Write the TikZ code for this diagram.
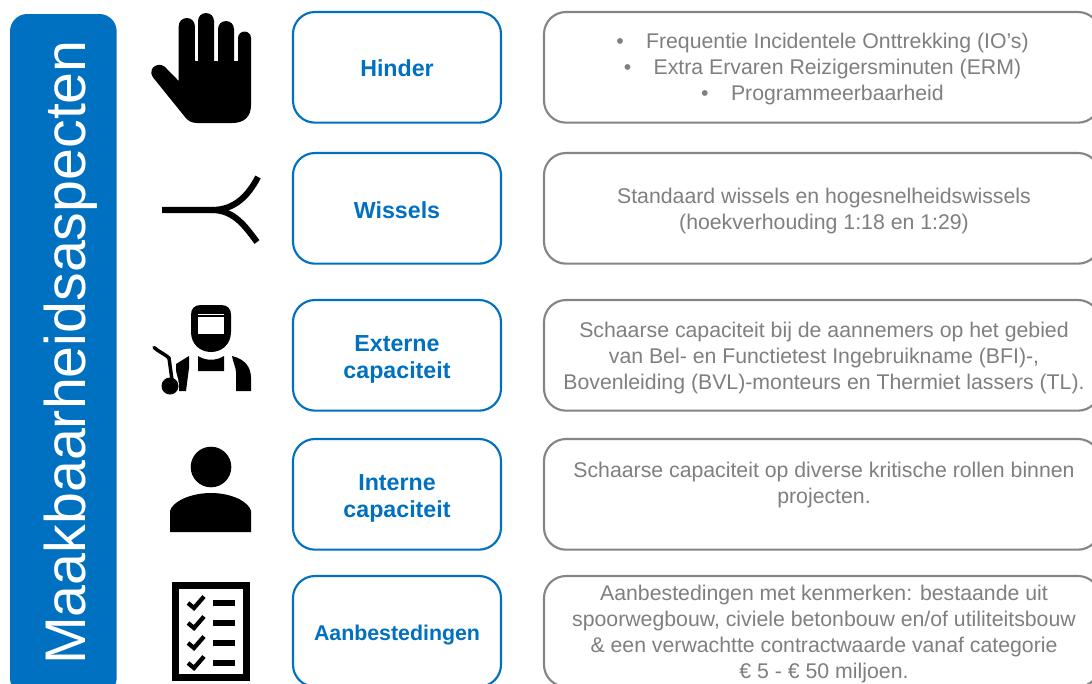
\documentclass[tikz,border=0pt]{standalone}
\usepackage{fontspec}
\setmainfont{Liberation Sans}
\definecolor{kblue}{HTML}{0070C0}
\definecolor{kgray}{HTML}{7F7F7F}
\definecolor{kedge}{HTML}{858585}
\tikzset{
  every node/.style={inner sep=0pt,outer sep=0pt},
  labelbox/.style={draw=kblue,line width=1.6pt,rounded corners=16.5pt,minimum width=156pt,minimum height=83pt,anchor=north west},
  labeltext/.style={text=kblue,align=center,font=\fontsize{17.4}{20.3}\selectfont\bfseries},
  infobox/.style={draw=kedge,line width=1.6pt,rounded corners=16.5pt,minimum width=417pt,minimum height=83pt,anchor=north west},
  infotext/.style={text=kgray,align=center,font=\fontsize{15.95}{19.4}\selectfont},
  icon/.style={fill=black,draw=none}
}
\begin{document}
\begin{tikzpicture}[x=0.75pt,y=-0.75pt]
\useasboundingbox (0,0) rectangle (1092,683);
\clip (0,0) rectangle (1092,683);
\fill[white] (0,0) rectangle (1092,683);
% title band
\node[fill=kblue,rounded corners=13pt,minimum width=80pt,minimum height=511pt,anchor=north west] (band) at (10,14) {};
\node[text=white,rotate=90,font=\fontsize{43}{44}\selectfont] (title) at (70.5,352.5) {Maakbaarheidsaspecten};
% label boxes
\node[labelbox] (l1) at (293,12) {};
\node[labelbox] (l2) at (293,153) {};
\node[labelbox] (l3) at (293,300) {};
\node[labelbox] (l4) at (293,439) {};
\node[labelbox] (l5) at (293,576) {};
\node[labeltext,yshift=-0.8pt] (lt1) at (l1) {Hinder};
\node[labeltext,yshift=-1.6pt] (lt2) at (l2) {Wissels};
\node[labeltext,yshift=-3pt] (lt3) at (l3) {Externe\\capaciteit};
\node[labeltext,yshift=-3pt] (lt4) at (l4) {Interne\\capaciteit};
\node[labeltext,yshift=-2.4pt,font=\fontsize{16}{19}\selectfont\bfseries] (lt5) at (l5) {Aanbestedingen};
% info boxes
\node[infobox] (r1) at (544,12) {};
\node[infobox] (r2) at (544,153) {};
\node[infobox] (r3) at (544,300) {};
\node[infobox] (r4) at (544,439) {};
\node[infobox] (r5) at (544,576) {};
\node[infotext] (t1) at (822.5,69) {•\hspace{1.05em}Frequentie Incidentele Onttrekking (IO's)\\•\hspace{1.05em}Extra Ervaren Reizigersminuten (ERM)\\•\hspace{1.05em}Programmeerbaarheid};
\node[infotext] (t2) at (824,211) {Standaard wissels en hogesnelheidswissels\\(hoekverhouding 1:18 en 1:29)};
\node[infotext] (t3) at (824,358) {Schaarse capaciteit bij de aannemers op het gebied\\van Bel- en Functietest Ingebruikname (BFI)-,\\Bovenleiding (BVL)-monteurs en Thermiet lassers (TL).};
\node[infotext] (t4) at (824,485) {Schaarse capaciteit op diverse kritische rollen binnen\\projecten.};
\node[infotext] (t5) at (824,634) {Aanbestedingen met kenmerken: bestaande uit\\spoorwegbouw, civiele betonbouw en/of utiliteitsbouw\\\& een verwachtte contractwaarde vanaf categorie\\€ 5 - € 50 miljoen.};
% hand
\fill[icon] (178.7,81)
  -- (178.7,26) arc[start angle=180,end angle=0,x radius=8.1,y radius=-8]
  -- (195,61) -- (198,61) -- (198,21) arc[start angle=180,end angle=0,x radius=8,y radius=-8]
  -- (214,61) -- (218,61) -- (218,29) arc[start angle=180,end angle=0,x radius=8,y radius=-8]
  -- (234,61) -- (238,61) -- (238,38) arc[start angle=180,end angle=0,x radius=6.5,y radius=-6.5]
  -- (251,105) .. controls (251,117) and (244,123) .. (232,123)
  -- (197,123) .. controls (192,123) and (188,121) .. (185,117)
  -- (153.5,78) .. controls (149,72) and (152,67) .. (156,65.5)
  .. controls (160,64) and (164,65) .. (167,69) -- cycle;
% switch
\draw[line width=4.6pt] (162,210) -- (212,210) .. controls (236,210) and (249,194) .. (258,177);
\draw[line width=4.6pt] (212,210) .. controls (234,210) and (245,226) .. (257,242);
% welder
\fill[icon] (201,305) -- (221,305) .. controls (228,305) and (231,309) .. (231,315)
  -- (231,332) .. controls (231,344) and (222,352) .. (211,352) .. controls (200,352) and (191,344) .. (191,332)
  -- (191,315) .. controls (191,309) and (194,305) .. (201,305) -- cycle;
\fill[white] (198,313.5) rectangle (224,315);
\fill[white] (198,317) rectangle (224,333.5);
\fill[icon] (198,356) .. controls (206,361) and (216,361) .. (224,356) -- (224,371) -- (198,371) -- cycle;
\fill[icon] (232,356) .. controls (244,359) and (251,366) .. (251,378) -- (251,391) -- (236,391) -- (236,372) .. controls (236,368) and (233,362) .. (232,356) -- cycle;
\fill[icon] (189,356) -- (189,368) -- (186,391) -- (179,391) -- (179,383) -- (176,376) -- (176,364) -- cycle;
\draw[line width=4pt,white] (170,358) -- (176,382);
\draw[line width=2.6pt,line cap=round] (154,347.5) .. controls (159,352) and (165,354) .. (169,358) -- (172,380);
\fill[icon] (170,386) circle[radius=8.5];
% person
\fill[icon] (211,467) circle[radius=20.3];
\fill[icon] (170,532) -- (170,511) .. controls (172,502) and (190,493) .. (211,493) .. controls (232,493) and (249,502) .. (251,511) -- (251,532) -- cycle;
% checklist
\draw[line width=5.4pt] (175.5,585.5) rectangle (246.5,677.5);
\foreach \yy in {603,623,643,663}{
  \draw[line width=3.2pt] (188,\yy) -- (194,\yy+5) -- (204,\yy-6.5);
  \draw[line width=4.4pt] (213,\yy) -- (235,\yy);
}
\end{tikzpicture}
\end{document}
